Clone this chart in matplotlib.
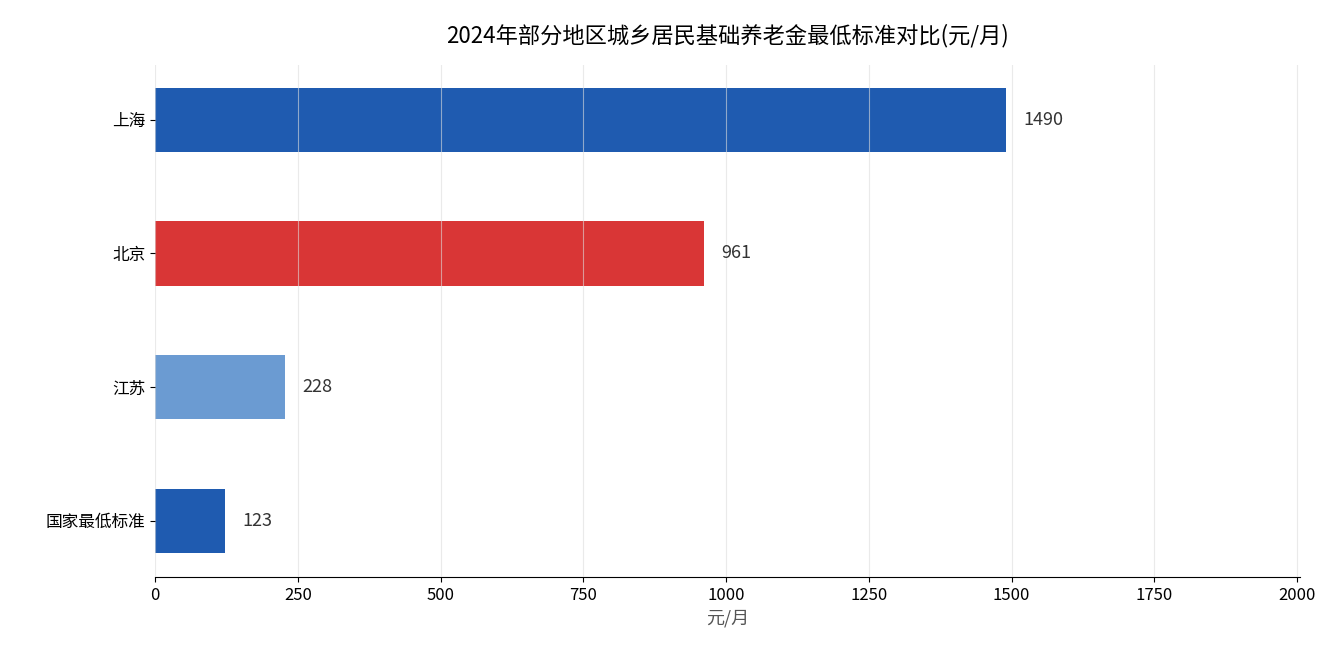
import matplotlib
matplotlib.use("Agg")
import matplotlib.pyplot as plt

plt.rcParams['font.family'] = ['Noto Sans CJK SC', 'DejaVu Sans']

regions = ["国家最低标准", "江苏", "北京", "上海"]
values = [123, 228, 961, 1490]
colors = ["#1f5bb0", "#6b9bd2", "#d93636", "#1f5bb0"]

fig = plt.figure(figsize=(13.34, 6.6), dpi=100)
ax = fig.add_axes([155/1334, 83/660, 1145/1334, 512/660])

ax.barh(range(len(regions)), values, height=0.48, color=colors)
for i, v in enumerate(values):
    ax.text(v + 30, i, str(v), va="center", ha="left", fontsize=13, color="#333333")

ax.set_yticks(range(len(regions)))
ax.set_yticklabels(regions, fontsize=12)
ax.set_xlim(0, 2005)
ax.set_ylim(-0.42, 3.41)
ax.set_xticks([0, 250, 500, 750, 1000, 1250, 1500, 1750, 2000])
ax.tick_params(axis="x", labelsize=12)
ax.set_xlabel("元/月", fontsize=13, color="#555555")
ax.set_title("2024年部分地区城乡居民基础养老金最低标准对比(元/月)", fontsize=16, pad=16)

ax.grid(axis="x", color="#dddddd", alpha=0.6, linewidth=0.8)
ax.set_axisbelow(False)
for s in ["top", "right", "left"]:
    ax.spines[s].set_visible(False)

fig.savefig("out.png")
